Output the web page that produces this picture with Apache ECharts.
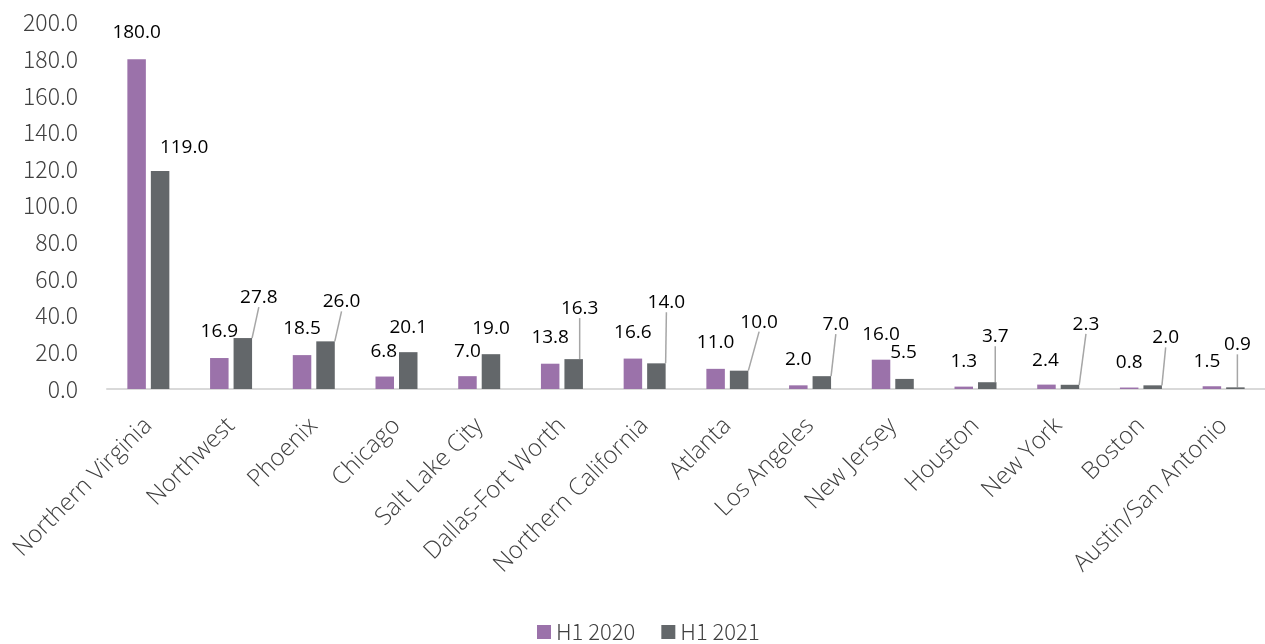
<!DOCTYPE html>
<html>
<head>
<meta charset="utf-8">
<script src="https://cdn.jsdelivr.net/npm/echarts@6/dist/echarts.min.js"></script>
<style>
html,body{margin:0;padding:0;background:#fff;}
#chart{width:1265px;height:644px;}
</style>
</head>
<body>
<div id="chart"></div>
<script>
const categories = ["Northern Virginia","Northwest","Phoenix","Chicago","Salt Lake City","Dallas-Fort Worth","Northern California","Atlanta","Los Angeles","New Jersey","Houston","New York","Boston","Austin/San Antonio"];
const h12020 = [180.0,16.9,18.5,6.8,7.0,13.8,16.6,11.0,2.0,16.0,1.3,2.4,0.8,1.5];
const h12021 = [119.0,27.8,26.0,20.1,19.0,16.3,14.0,10.0,7.0,5.5,3.7,2.3,2.0,0.9];
const yTicks = [0,20,40,60,80,100,120,140,160,180,200];

// manual label nudges (dx, dy) relative to the default "top" label spot
const shift2020 = [[0,-12],[0,-12],[0,-12],[-1,-10],[0,-10],[0,-12],[0,-11],[0,-12],[0,-11],[0,-11],[0,-11],[-1,-10],[0,-10],[-5,-10]];
const shift2021 = [[24,-9],[16,-26],[16,-25],[0,-10],[0,-11],[6,-36],[10,-46],[20,-34],[14,-37],[-1,-12],[8,-31],[16,-46],[13,-33],[2,-28]];
const leader2021 = [false,true,true,false,false,true,true,true,true,false,true,true,true,true];

const chart = echarts.init(document.getElementById('chart'));
const FONT = '"Noto Sans CJK JP","Noto Sans",sans-serif';
const FONT2 = '"Open Sans","Noto Sans",sans-serif';

function items(vals, leaders){
  return vals.map((v,i)=>({value:v, labelLine:{show: leaders ? leaders[i] : false}}));
}

chart.setOption({
  animation:false,
  textStyle:{fontFamily:FONT},
  grid:{left:107, top:22.5, width:1168, height:366.5, containLabel:false},
  legend:{
    top:616, left:532, itemWidth:14, itemHeight:14, itemGap:26,
    icon:'rect',
    textStyle:{fontSize:22, color:'#404040', fontFamily:FONT, fontWeight:300},
    data:['H1 2020','H1 2021']
  },
  xAxis:{
    type:'category', data:categories,
    axisLine:{lineStyle:{color:'#D9D9D9', width:2}},
    axisTick:{show:false},
    axisLabel:{rotate:45, margin:33, fontSize:24, color:'#404040', fontFamily:FONT2, fontWeight:300, interval:0}
  },
  yAxis:{
    type:'value', min:yTicks[0], max:yTicks[yTicks.length-1], interval:yTicks[1]-yTicks[0],
    axisLine:{show:false}, axisTick:{show:false}, splitLine:{show:false},
    axisLabel:{margin:29, fontSize:23, color:'#404040', fontFamily:FONT, fontWeight:300,
      formatter:v=>v.toFixed(1)}
  },
  series:[
    {
      name:'H1 2020', type:'bar', data:items(h12020,null),
      barWidth:18.5, barGap:'27%',
      itemStyle:{color:'#9B72AA'},
      label:{show:true, position:'top', distance:5, fontSize:19, color:'#000', fontFamily:FONT2,
        formatter:p=>p.value.toFixed(1)},
      labelLayout:p=>({dx:shift2020[p.dataIndex][0], dy:shift2020[p.dataIndex][1]})
    },
    {
      name:'H1 2021', type:'bar', data:items(h12021,leader2021),
      barWidth:18.5, barGap:'27%',
      itemStyle:{color:'#63676A'},
      label:{show:true, position:'top', distance:5, fontSize:19, color:'#000', fontFamily:FONT2,
        formatter:p=>p.value.toFixed(1)},
      labelLine:{show:false, lineStyle:{color:'#A6A6A6', width:1.5}},
      labelLayout:p=>({dx:shift2021[p.dataIndex][0], dy:shift2021[p.dataIndex][1]})
    }
  ]
});
</script>
</body>
</html>
